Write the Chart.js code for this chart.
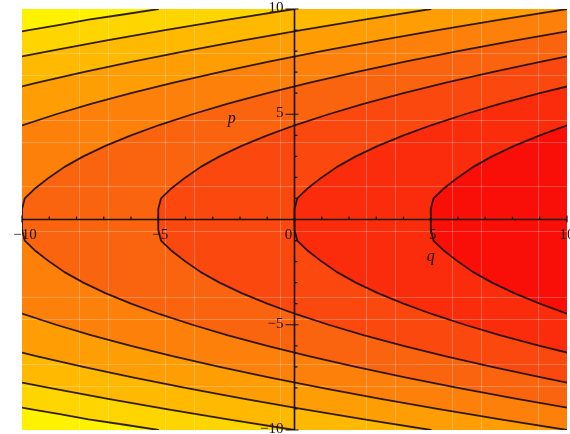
<!DOCTYPE html>
<html>
<head>
<meta charset="utf-8">
<script src="https://cdn.jsdelivr.net/npm/chart.js@4.4.1/dist/chart.umd.min.js"></script>
<style>
html,body{margin:0;padding:0;background:#fff;}
canvas{display:block;}
</style>
</head>
<body>
<canvas id="c" width="570" height="434"></canvas>
<script>
// ---- data (q on x, p on y) ----
const contourLevels = [-30, -25, -20, -15, -10, -5, 0, 5];

const contourM30 = [[-5,10],[-6.23,9.75],[-7.56,9.5],[-8.61,9.25],[-9.75,9],[-10,8.94], null,
                    [-10,-8.94],[-9.75,-9],[-8.61,-9.25],[-7.56,-9.5],[-6.23,-9.75],[-5,-10]];
const contourM25 = [[0,10],[-2.44,9.5],[-4.75,9],[-6.94,8.5],[-9,8],[-10,7.75], null,
                    [-10,-7.75],[-9,-8],[-6.94,-8.5],[-4.75,-9],[-2.44,-9.5],[0,-10]];
const contourM20 = [[5,10],[2.56,9.5],[0.25,9],[-1.94,8.5],[-4,8],[-5.94,7.5],[-7.75,7],[-9.44,6.5],[-10,6.32], null,
                    [-10,-6.32],[-9.44,-6.5],[-7.75,-7],[-5.94,-7.5],[-4,-8],[-1.94,-8.5],[0.25,-9],[2.56,-9.5],[5,-10]];
const contourM15 = [[10,10],[7.56,9.5],[5.25,9],[3.06,8.5],[1,8],[-0.94,7.5],[-2.75,7],[-4.44,6.5],[-6,6],[-7.44,5.5],[-8.75,5],[-10,4.47], null,
                    [-10,-4.47],[-8.75,-5],[-7.44,-5.5],[-6,-6],[-4.44,-6.5],[-2.75,-7],[-0.94,-7.5],[1,-8],[3.06,-8.5],[5.25,-9],[7.56,-9.5],[10,-10]];
const contourM10 = [[10,8.94],[8.06,8.5],[6,8],[4.06,7.5],[2.25,7],[0.56,6.5],[-1,6],[-2.44,5.5],[-3.75,5],[-4.94,4.5],[-6,4],[-6.94,3.5],[-7.75,3],[-8.44,2.5],[-9,2],[-9.5,1.5],[-9.9,1],[-10,0.5],[-10,0],
                    [-10,-0.5],[-9.9,-1],[-9.5,-1.5],[-9,-2],[-8.44,-2.5],[-7.75,-3],[-6.94,-3.5],[-6,-4],[-4.94,-4.5],[-3.75,-5],[-2.44,-5.5],[-1,-6],[0.56,-6.5],[2.25,-7],[4.06,-7.5],[6,-8],[8.06,-8.5],[10,-8.94]];
const contourM5  = [[10,7.75],[9.06,7.5],[7.25,7],[5.56,6.5],[4,6],[2.56,5.5],[1.25,5],[0.06,4.5],[-1,4],[-1.94,3.5],[-2.75,3],[-3.44,2.5],[-4,2],[-4.5,1.5],[-4.9,1],[-5,0.5],[-5,0],
                    [-5,-0.5],[-4.9,-1],[-4.5,-1.5],[-4,-2],[-3.44,-2.5],[-2.75,-3],[-1.94,-3.5],[-1,-4],[0.06,-4.5],[1.25,-5],[2.56,-5.5],[4,-6],[5.56,-6.5],[7.25,-7],[9.06,-7.5],[10,-7.75]];
const contour0   = [[10,6.32],[9,6],[7.56,5.5],[6.25,5],[5.06,4.5],[4,4],[3.06,3.5],[2.25,3],[1.56,2.5],[1,2],[0.5,1.5],[0.1,1],[0,0.5],[0,0],
                    [0,-0.5],[0.1,-1],[0.5,-1.5],[1,-2],[1.56,-2.5],[2.25,-3],[3.06,-3.5],[4,-4],[5.06,-4.5],[6.25,-5],[7.56,-5.5],[9,-6],[10,-6.32]];
const contour5   = [[10,4.47],[9,4],[8.06,3.5],[7.25,3],[6.56,2.5],[6,2],[5.5,1.5],[5.1,1],[5,0.5],[5,0],
                    [5,-0.5],[5.1,-1],[5.5,-1.5],[6,-2],[6.56,-2.5],[7.25,-3],[8.06,-3.5],[9,-4],[10,-4.47]];

const contours = [contourM30, contourM25, contourM20, contourM15, contourM10, contourM5, contour0, contour5];

const xTicks = [-10, -5, 0, 5, 10];
const xTickLabels = ['\u221210', '\u22125', '0', '5', '10'];
const yTicks = [10, 5, -5, -10];
const yTickLabels = ['10', '5', '\u22125', '\u221210'];
const xTitle = 'q';
const yTitle = 'p';

// ---- styles ----
const bandColors = ['rgb(255,242,0)','rgb(255,213,0)','rgb(255,185,0)','rgb(255,157,4)','rgb(252,128,10)',
                    'rgb(250,100,14)','rgb(250,72,14)','rgb(250,44,12)','rgb(250,14,8)'];
const meshStep = 20/19;
const meshX = [2,3,5,6,9,12,13,15,16,18];
const meshY = [2,3,5,6,8,10,13,14,16,17];

function split(arr){
  const out=[]; let cur=[];
  arr.forEach(pt=>{ if(pt===null){ if(cur.length) out.push(cur); cur=[]; } else cur.push({x:pt[0],y:pt[1]}); });
  if(cur.length) out.push(cur);
  return out;
}

const datasets=[];
contours.forEach(c=>{
  split(c).forEach(seg=>{
    datasets.push({data:seg, showLine:true, pointRadius:0, borderColor:'rgba(25,12,5,0.9)', borderWidth:1.8, tension:0, fill:false});
  });
});

const bgPlugin = {
  id:'bg',
  beforeDatasetsDraw(chart){
    const {ctx, chartArea:a, scales:{x,y}} = chart;
    ctx.save();
    ctx.beginPath(); ctx.rect(a.left,a.top,a.right-a.left,a.bottom-a.top); ctx.clip();
    ctx.fillStyle = bandColors[0];
    ctx.fillRect(a.left,a.top,a.right-a.left,a.bottom-a.top);
    contours.forEach((c,i)=>{
      ctx.beginPath();
      ctx.moveTo(x.getPixelForValue(10), y.getPixelForValue(10));
      c.forEach(pt=>{ if(pt) ctx.lineTo(x.getPixelForValue(pt[0]), y.getPixelForValue(pt[1])); });
      ctx.lineTo(x.getPixelForValue(10), y.getPixelForValue(-10));
      ctx.closePath();
      ctx.fillStyle = bandColors[i+1];
      ctx.fill();
    });
    ctx.strokeStyle='rgba(255,255,255,0.25)';
    ctx.lineWidth=1;
    meshX.forEach(i=>{
      const px=Math.round(x.getPixelForValue(-10+i*meshStep))+0.5;
      ctx.beginPath(); ctx.moveTo(px,a.top); ctx.lineTo(px,a.bottom); ctx.stroke();
    });
    meshY.forEach(j=>{
      const py=Math.round(y.getPixelForValue(10-j*meshStep))+0.5;
      ctx.beginPath(); ctx.moveTo(a.left,py); ctx.lineTo(a.right,py); ctx.stroke();
    });
    ctx.restore();
  },
  afterDatasetsDraw(chart){
    const {ctx, chartArea:a, scales:{x,y}} = chart;
    const x0=x.getPixelForValue(0), y0=y.getPixelForValue(0);
    ctx.save();
    ctx.strokeStyle='#1a1008';
    ctx.lineWidth=1.6;
    ctx.beginPath();
    ctx.moveTo(a.left,y0); ctx.lineTo(a.right,y0);
    ctx.moveTo(x0,a.top); ctx.lineTo(x0,a.bottom);
    ctx.stroke();
    // minor ticks
    ctx.lineWidth=1.2;
    ctx.beginPath();
    for(let v=-10; v<=10; v++){
      const px=x.getPixelForValue(v);
      ctx.moveTo(px,y0); ctx.lineTo(px,y0-3);
      const py=y.getPixelForValue(v);
      ctx.moveTo(x0,py); ctx.lineTo(x0+3,py);
    }
    // major ticks
    xTicks.forEach(v=>{ const px=x.getPixelForValue(v); ctx.moveTo(px,y0-4); ctx.lineTo(px,y0+3); });
    yTicks.forEach(v=>{ const py=y.getPixelForValue(v); ctx.moveTo(x0-9,py); ctx.lineTo(x0+4,py); });
    ctx.stroke();
    // labels
    ctx.fillStyle='#1a1008';
    ctx.font='15px "Liberation Serif", "DejaVu Serif", serif';
    ctx.textBaseline='middle';
    ctx.textAlign='center';
    xTicks.forEach((v,i)=>{
      let px=x.getPixelForValue(v);
      if(v===0) px-=6;
      else if(v===-5 || v===5) px+=2;
      else if(v===-10) px+=3;
      ctx.fillText(xTickLabels[i], px, y0+16);
    });
    ctx.textAlign='right';
    yTicks.forEach((v,i)=>{
      ctx.fillText(yTickLabels[i], x0-11, y.getPixelForValue(v)-1);
    });
    ctx.font='italic 16px "Liberation Serif", "DejaVu Serif", serif';
    ctx.textAlign='center';
    ctx.fillText(yTitle, x.getPixelForValue(-2.3), y.getPixelForValue(4.8));
    ctx.fillText(xTitle, x.getPixelForValue(5), y.getPixelForValue(-1.75));
    ctx.restore();
  }
};

new Chart(document.getElementById('c'), {
  type:'scatter',
  data:{datasets},
  options:{
    responsive:false,
    animation:false,
    layout:{padding:{left:22,right:3,top:9,bottom:4}},
    plugins:{legend:{display:false}, tooltip:{enabled:false}},
    scales:{
      x:{type:'linear', min:-10, max:10, display:false},
      y:{type:'linear', min:-10, max:10, display:false}
    },
    elements:{line:{borderCapStyle:'round', borderJoinStyle:'round'}}
  },
  plugins:[bgPlugin]
});
</script>
</body>
</html>
